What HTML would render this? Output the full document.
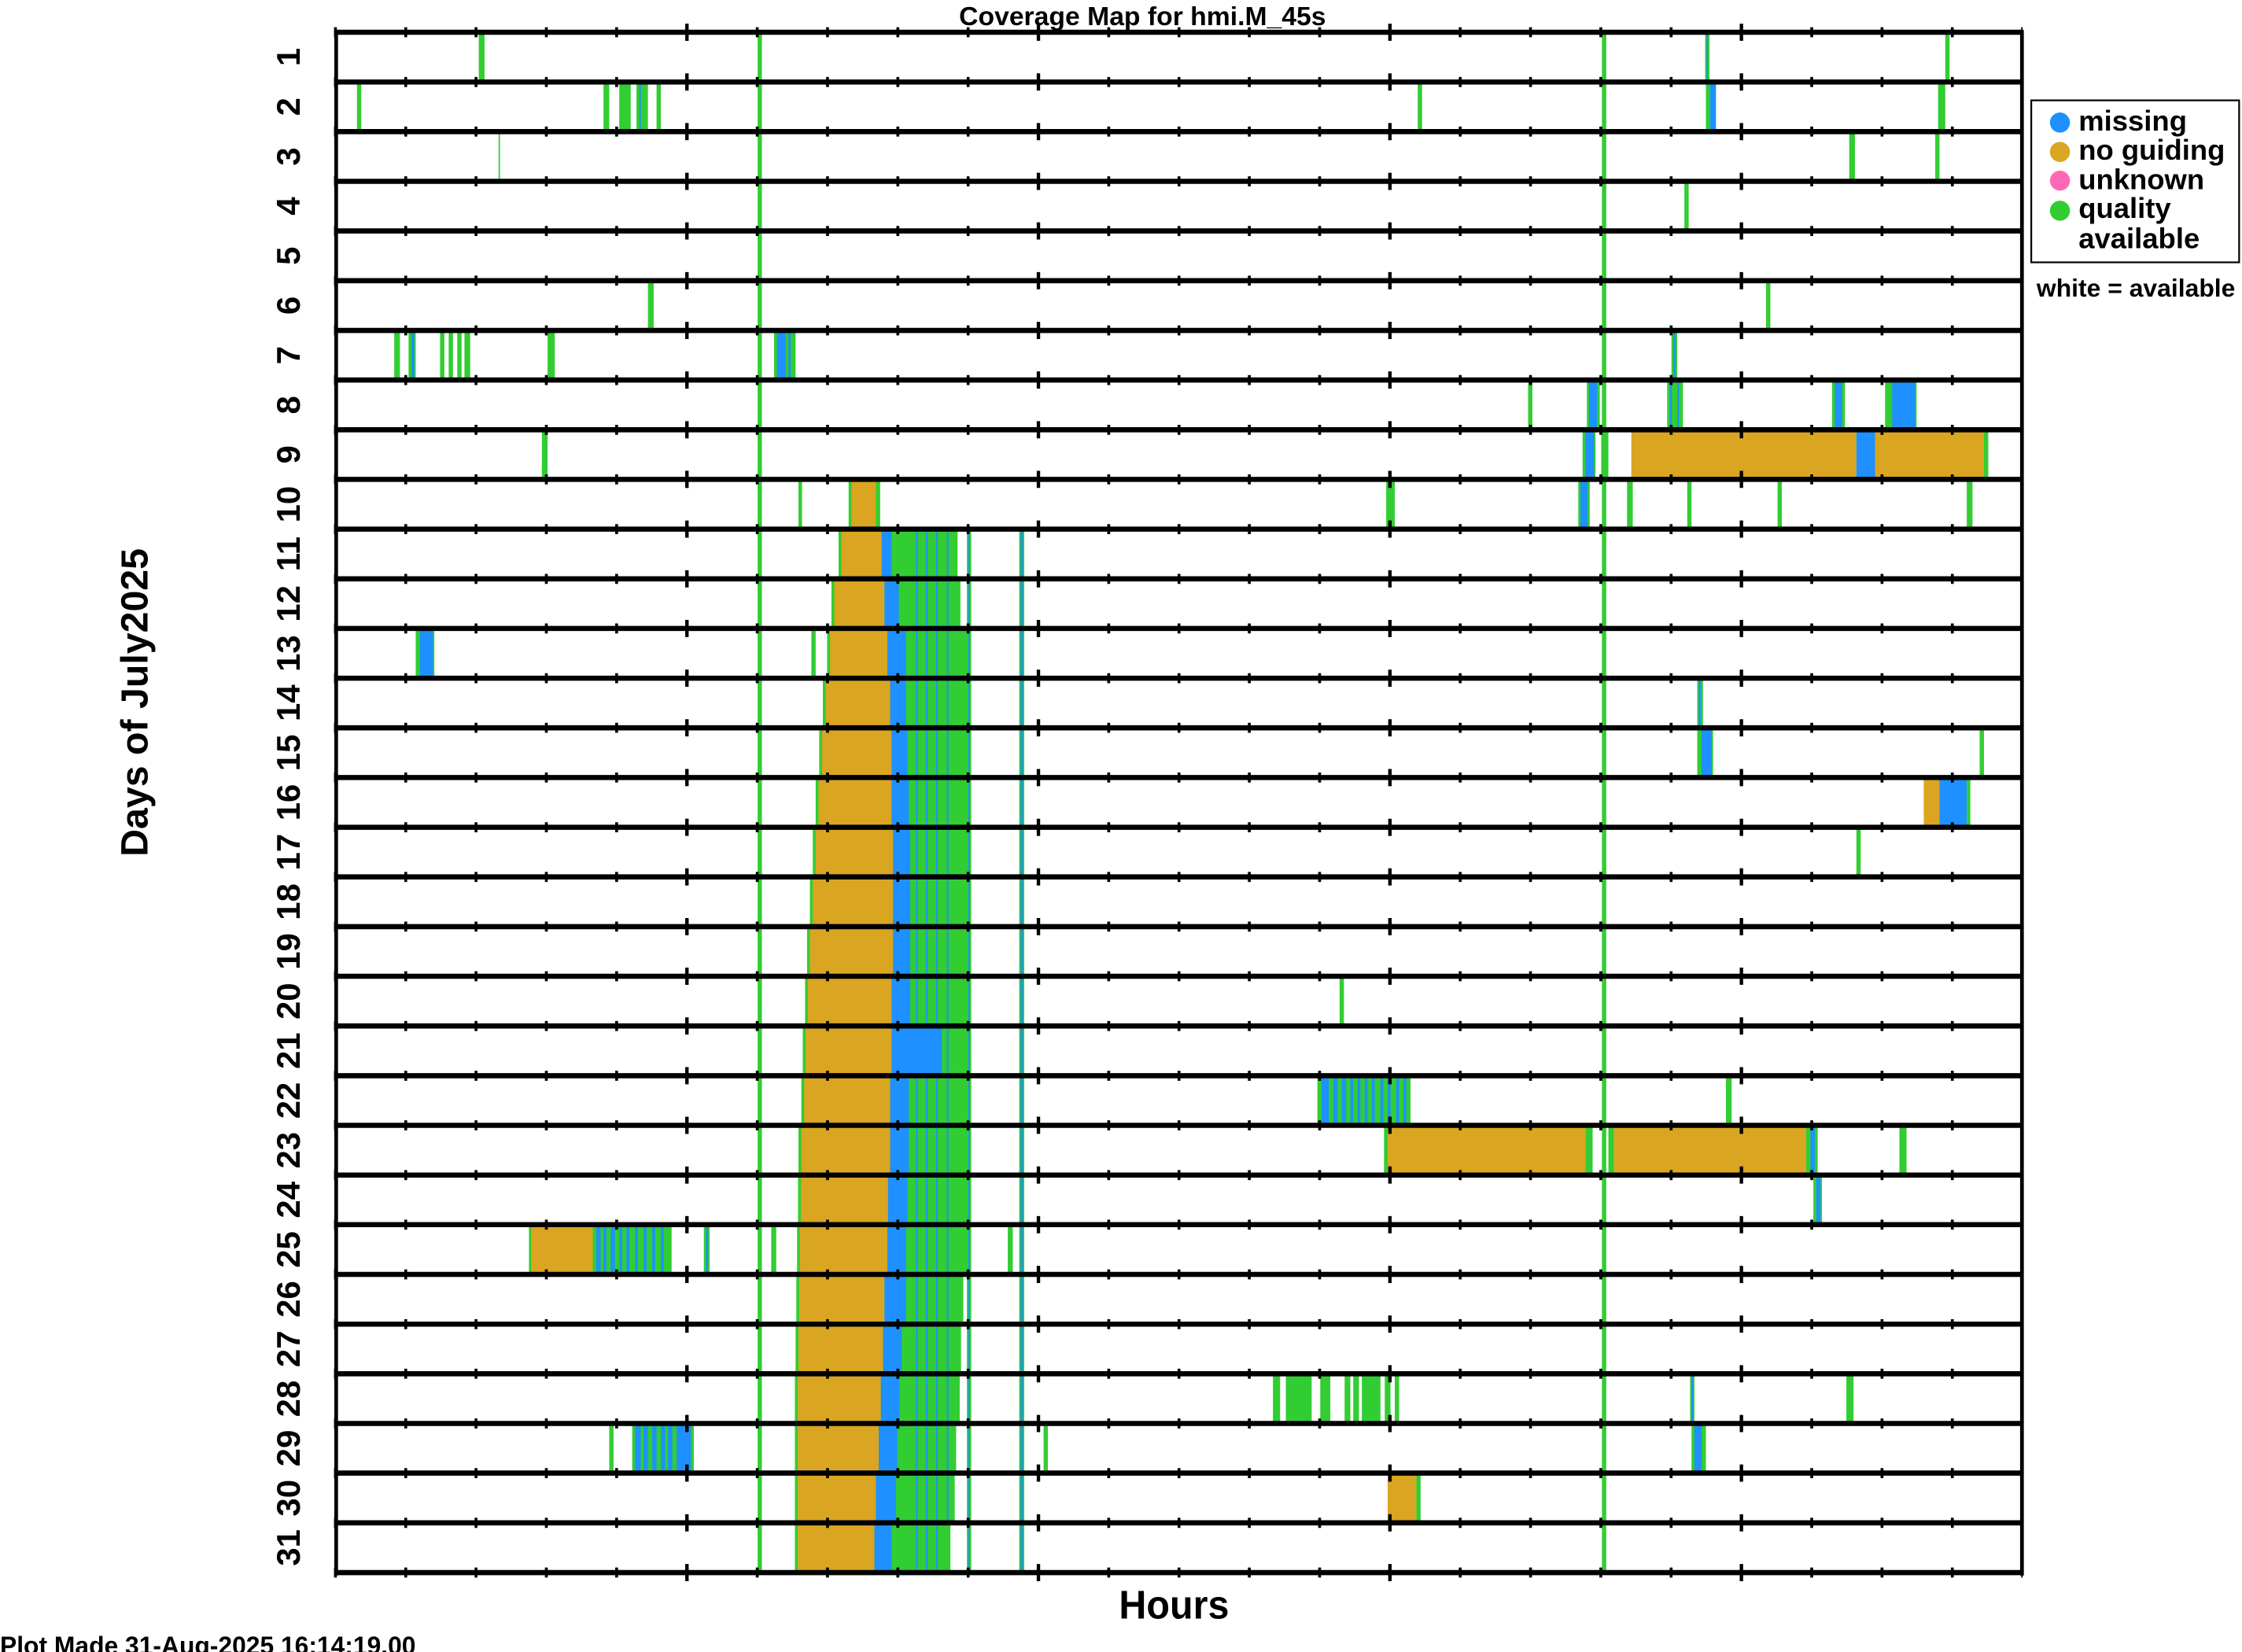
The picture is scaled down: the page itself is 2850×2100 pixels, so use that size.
<!DOCTYPE html>
<html><head><meta charset="utf-8"><style>
html,body{margin:0;padding:0;background:#fff}
svg{display:block}
.g{fill:#32CD32}.b{fill:#1E90FF}.o{fill:#DAA520}.p{fill:#FF69B4}
text{font-family:"Liberation Sans",sans-serif;font-weight:bold;fill:#000}
</style></head><body>
<svg width="2850" height="2100" viewBox="0 0 1564 1152.4" preserveAspectRatio="none" xmlns="http://www.w3.org/2000/svg">
<defs>
<g id="rl">
<line x1="234" x2="1411" y1="0" y2="0" stroke="#000" stroke-width="3.6"/>
<line x1="233" x2="1411" y1="0" y2="0" stroke="#000" stroke-width="7" stroke-dasharray="2 47.04"/>
<line x1="478" x2="1411" y1="0" y2="0" stroke="#000" stroke-width="12" stroke-dasharray="2.4 242.8"/>
</g>
</defs>
<rect class="g" x="528.5" y="22.5" width="3" height="1074.5"/>
<rect class="g" x="1117.5" y="22.5" width="3" height="1074.5"/>

<g transform="translate(0,22.5)"><rect class="g" x="334" width="4" height="34.66"/><rect class="g" x="1189.5" width="3" height="34.66"/><rect class="b" x="1190.5" width="1" height="34.66"/><rect class="g" x="1357" width="3" height="34.66"/></g>
<g transform="translate(0,57.2)"><rect class="g" x="249" width="3" height="34.66"/><rect class="g" x="421" width="4" height="34.66"/><rect class="g" x="432" width="8" height="34.66"/><rect class="g" x="444" width="8" height="34.66"/><rect class="b" x="446" width="1" height="34.66"/><rect class="g" x="458" width="3" height="34.66"/><rect class="g" x="989" width="3" height="34.66"/><rect class="g" x="1190" width="7" height="34.66"/><rect class="b" x="1193" width="4" height="34.66"/><rect class="g" x="1352" width="5" height="34.66"/></g>
<g transform="translate(0,91.8)"><rect class="g" x="347.8" width="1" height="34.66"/><rect class="g" x="1290" width="4" height="34.66"/><rect class="g" x="1350" width="3" height="34.66"/></g>
<g transform="translate(0,126.5)"><rect class="g" x="1175" width="3" height="34.66"/></g>
<g transform="translate(0,195.8)"><rect class="g" x="452" width="4" height="34.66"/><rect class="g" x="1232" width="3" height="34.66"/></g>
<g transform="translate(0,230.5)"><rect class="g" x="275" width="4" height="34.66"/><rect class="g" x="285" width="5" height="34.66"/><rect class="b" x="287" width="2" height="34.66"/><rect class="g" x="307" width="3" height="34.66"/><rect class="g" x="313" width="3" height="34.66"/><rect class="g" x="319" width="3" height="34.66"/><rect class="g" x="324" width="4" height="34.66"/><rect class="g" x="382" width="5" height="34.66"/><rect class="g" x="540" width="15" height="34.66"/><rect class="b" x="542" width="6" height="34.66"/><rect class="b" x="550" width="1.5" height="34.66"/><rect class="g" x="1166" width="4" height="34.66"/><rect class="b" x="1167.5" width="1.2" height="34.66"/></g>
<g transform="translate(0,265.1)"><rect class="g" x="1066" width="3" height="34.66"/><rect class="g" x="1107" width="9" height="34.66"/><rect class="b" x="1108.5" width="5.5" height="34.66"/><rect class="g" x="1163" width="11" height="34.66"/><rect class="b" x="1165" width="1.2" height="34.66"/><rect class="b" x="1170" width="1.2" height="34.66"/><rect class="g" x="1278" width="9" height="34.66"/><rect class="b" x="1280" width="5" height="34.66"/><rect class="g" x="1315" width="22" height="34.66"/><rect class="b" x="1320" width="16" height="34.66"/></g>
<g transform="translate(0,299.8)"><rect class="g" x="378" width="4" height="34.66"/><rect class="g" x="1104" width="9" height="34.66"/><rect class="b" x="1106" width="6" height="34.66"/><rect class="g" x="1117" width="5" height="34.66"/><rect class="o" x="1138" width="157" height="34.66"/><rect class="b" x="1295" width="13" height="34.66"/><rect class="o" x="1308" width="76" height="34.66"/><rect class="g" x="1384" width="3" height="34.66"/></g>
<g transform="translate(0,334.4)"><rect class="g" x="557" width="2.5" height="34.66"/><rect class="g" x="592" width="22" height="34.66"/><rect class="o" x="594" width="17" height="34.66"/><rect class="g" x="967" width="6" height="34.66"/><rect class="g" x="1101" width="8" height="34.66"/><rect class="b" x="1102.5" width="5" height="34.66"/><rect class="g" x="1135" width="4" height="34.66"/><rect class="g" x="1177" width="3" height="34.66"/><rect class="g" x="1240" width="3" height="34.66"/><rect class="g" x="1372" width="4" height="34.66"/></g>

<g id="mb">
<g transform="translate(0,369.1)"><rect class="g" x="585" width="83" height="34.66"/><rect class="o" x="587" width="28" height="34.66"/><rect class="b" x="615" width="7" height="34.66"/></g>
<g transform="translate(0,403.8)"><rect class="g" x="580" width="90" height="34.66"/><rect class="o" x="582" width="35" height="34.66"/><rect class="b" x="617" width="10" height="34.66"/></g>
<g transform="translate(0,438.4)"><rect class="g" x="577" width="98" height="34.66"/><rect class="o" x="579" width="40" height="34.66"/><rect class="b" x="619" width="13" height="34.66"/><rect class="g" x="566" width="3" height="34.66"/></g>
<g transform="translate(0,473.1)"><rect class="g" x="574" width="101" height="34.66"/><rect class="o" x="576" width="45" height="34.66"/><rect class="b" x="621" width="11" height="34.66"/></g>
<g transform="translate(0,507.7)"><rect class="g" x="571.5" width="103.5" height="34.66"/><rect class="o" x="573.5" width="48.5" height="34.66"/><rect class="b" x="622" width="11" height="34.66"/></g>
<g transform="translate(0,542.4)"><rect class="g" x="569" width="106" height="34.66"/><rect class="o" x="571" width="51" height="34.66"/><rect class="b" x="622" width="12" height="34.66"/></g>
<g transform="translate(0,577.1)"><rect class="g" x="567" width="108" height="34.66"/><rect class="o" x="569" width="54" height="34.66"/><rect class="b" x="623" width="12" height="34.66"/></g>
<g transform="translate(0,611.7)"><rect class="g" x="565" width="110" height="34.66"/><rect class="o" x="567" width="56" height="34.66"/><rect class="b" x="623" width="12" height="34.66"/></g>
<g transform="translate(0,646.4)"><rect class="g" x="563" width="112" height="34.66"/><rect class="o" x="565" width="58" height="34.66"/><rect class="b" x="623" width="12" height="34.66"/></g>
<g transform="translate(0,681.0)"><rect class="g" x="561.6" width="113.4" height="34.66"/><rect class="o" x="563.6" width="58.4" height="34.66"/><rect class="b" x="622" width="13" height="34.66"/></g>
<g transform="translate(0,715.7)"><rect class="g" x="560" width="115" height="34.66"/><rect class="o" x="562" width="60" height="34.66"/><rect class="b" x="622" width="35" height="34.66"/></g>
<g transform="translate(0,750.4)"><rect class="g" x="559" width="116" height="34.66"/><rect class="o" x="561" width="60" height="34.66"/><rect class="b" x="621" width="13" height="34.66"/></g>
<g transform="translate(0,785.0)"><rect class="g" x="557" width="118" height="34.66"/><rect class="o" x="559" width="62" height="34.66"/><rect class="b" x="621" width="13" height="34.66"/></g>
<g transform="translate(0,819.7)"><rect class="g" x="556.7" width="118.3" height="34.66"/><rect class="o" x="558.7" width="60.8" height="34.66"/><rect class="b" x="619.5" width="13.5" height="34.66"/></g>
<g transform="translate(0,854.3)"><rect class="g" x="556" width="119" height="34.66"/><rect class="o" x="558" width="61" height="34.66"/><rect class="b" x="619" width="13" height="34.66"/></g>
<g transform="translate(0,889.0)"><rect class="g" x="555.5" width="116.5" height="34.66"/><rect class="o" x="557.5" width="59.5" height="34.66"/><rect class="b" x="617" width="15" height="34.66"/></g>
<g transform="translate(0,923.7)"><rect class="g" x="555" width="115.4" height="34.66"/><rect class="o" x="557" width="59" height="34.66"/><rect class="b" x="616" width="13" height="34.66"/></g>
<g transform="translate(0,958.3)"><rect class="g" x="554.5" width="115" height="34.66"/><rect class="o" x="556.5" width="58" height="34.66"/><rect class="b" x="614.5" width="13" height="34.66"/></g>
<g transform="translate(0,993.0)"><rect class="g" x="554.5" width="112.5" height="34.66"/><rect class="o" x="556.5" width="56.5" height="34.66"/><rect class="b" x="613" width="13" height="34.66"/></g>
<g transform="translate(0,1027.6)"><rect class="g" x="554.5" width="111.5" height="34.66"/><rect class="o" x="556.5" width="54.5" height="34.66"/><rect class="b" x="611" width="14" height="34.66"/></g>
<g transform="translate(0,1062.3)"><rect class="g" x="554.5" width="108.5" height="34.66"/><rect class="o" x="556.5" width="53.5" height="34.66"/><rect class="b" x="610" width="12" height="34.66"/></g>
</g>
<g class="b">
<rect x="639" y="369.1" width="1.1" height="728"/><rect x="646" y="369.1" width="1.1" height="728"/><rect x="653" y="369.1" width="1.1" height="728"/><rect x="660.5" y="369.1" width="1.1" height="693"/>
</g>
<rect class="g" x="674.5" y="369.1" width="3" height="728"/><rect class="b" x="675.5" y="369.1" width="1" height="728"/>
<rect class="g" x="711" y="369.1" width="3.5" height="728"/><rect class="b" x="712" y="369.1" width="1.5" height="728"/>

<g transform="translate(0,438.4)"><rect class="g" x="290" width="13" height="34.66"/><rect class="b" x="293" width="9" height="34.66"/></g>
<g transform="translate(0,473.1)"><rect class="g" x="1184" width="4" height="34.66"/><rect class="b" x="1185" width="1.5" height="34.66"/></g>
<g transform="translate(0,507.7)"><rect class="g" x="1184" width="11" height="34.66"/><rect class="b" x="1187" width="7" height="34.66"/><rect class="g" x="1381" width="3" height="34.66"/></g>
<g transform="translate(0,542.4)"><rect class="o" x="1342" width="11" height="34.66"/><rect class="b" x="1353" width="19" height="34.66"/><rect class="g" x="1372" width="2.5" height="34.66"/></g>
<g transform="translate(0,577.1)"><rect class="g" x="1295" width="3" height="34.66"/></g>
<g transform="translate(0,681.0)"><rect class="g" x="934.5" width="3" height="34.66"/></g>
<g transform="translate(0,750.4)"><rect class="g" x="919" width="65" height="34.66"/>
<rect class="b" x="922" width="5" height="34.66"/><rect class="b" x="930" width="3" height="34.66"/><rect class="b" x="936" width="3" height="34.66"/><rect class="b" x="942" width="2" height="34.66"/><rect class="b" x="947" width="2" height="34.66"/><rect class="b" x="952" width="2" height="34.66"/><rect class="b" x="957" width="2" height="34.66"/><rect class="b" x="963" width="2" height="34.66"/><rect class="b" x="968" width="2" height="34.66"/><rect class="b" x="974" width="2" height="34.66"/><rect class="b" x="979" width="2" height="34.66"/>
<rect class="g" x="1204" width="4" height="34.66"/></g>
<g transform="translate(0,785.0)"><rect class="g" x="965.5" width="3" height="34.66"/><rect class="o" x="968" width="138" height="34.66"/><rect class="g" x="1106" width="5" height="34.66"/><rect class="g" x="1122" width="4" height="34.66"/><rect class="o" x="1126" width="134" height="34.66"/><rect class="g" x="1260" width="8" height="34.66"/><rect class="b" x="1263" width="3" height="34.66"/><rect class="g" x="1325" width="5" height="34.66"/></g>
<g transform="translate(0,819.7)"><rect class="g" x="1265" width="6" height="34.66"/><rect class="b" x="1267" width="3" height="34.66"/></g>
<g transform="translate(0,854.3)"><rect class="g" x="369" width="2" height="34.66"/><rect class="o" x="370.5" width="43" height="34.66"/><rect class="g" x="413.5" width="55" height="34.66"/>
<rect class="b" x="416" width="3" height="34.66"/><rect class="b" x="421" width="2" height="34.66"/><rect class="b" x="426" width="3" height="34.66"/><rect class="b" x="432" width="2" height="34.66"/><rect class="b" x="437" width="2" height="34.66"/><rect class="b" x="443" width="2" height="34.66"/><rect class="b" x="449" width="2" height="34.66"/><rect class="b" x="455" width="2" height="34.66"/><rect class="b" x="461" width="2" height="34.66"/>
<rect class="g" x="491" width="4" height="34.66"/><rect class="b" x="492.5" width="1.5" height="34.66"/><rect class="g" x="538" width="3.5" height="34.66"/><rect class="g" x="703" width="3.5" height="34.66"/></g>
<g transform="translate(0,958.3)"><rect class="g" x="888" width="5" height="34.66"/><rect class="g" x="897" width="18" height="34.66"/><rect class="g" x="921" width="7" height="34.66"/><rect class="g" x="938" width="4" height="34.66"/><rect class="g" x="944" width="4" height="34.66"/><rect class="g" x="950" width="13" height="34.66"/><rect class="g" x="966" width="4" height="34.66"/><rect class="g" x="973" width="3" height="34.66"/><rect class="g" x="1179" width="3" height="34.66"/><rect class="b" x="1180" width="1.3" height="34.66"/><rect class="g" x="1288" width="5" height="34.66"/></g>
<g transform="translate(0,993.0)"><rect class="g" x="425" width="3" height="34.66"/><rect class="g" x="441" width="43" height="34.66"/>
<rect class="b" x="443" width="4" height="34.66"/><rect class="b" x="449" width="3" height="34.66"/><rect class="b" x="455" width="3" height="34.66"/><rect class="b" x="461" width="3" height="34.66"/><rect class="b" x="466" width="3" height="34.66"/><rect class="b" x="472" width="10" height="34.66"/>
<rect class="g" x="728" width="3" height="34.66"/><rect class="g" x="1180" width="10" height="34.66"/><rect class="b" x="1182" width="5" height="34.66"/></g>
<g transform="translate(0,1027.6)"><rect class="o" x="968" width="20" height="34.66"/><rect class="g" x="988" width="3" height="34.66"/></g>

<use href="#rl" y="22.5"/><use href="#rl" y="57.2"/><use href="#rl" y="91.8"/><use href="#rl" y="126.5"/><use href="#rl" y="161.1"/><use href="#rl" y="195.8"/><use href="#rl" y="230.5"/><use href="#rl" y="265.1"/><use href="#rl" y="299.8"/><use href="#rl" y="334.4"/><use href="#rl" y="369.1"/><use href="#rl" y="403.8"/><use href="#rl" y="438.4"/><use href="#rl" y="473.1"/><use href="#rl" y="507.7"/><use href="#rl" y="542.4"/><use href="#rl" y="577.1"/><use href="#rl" y="611.7"/><use href="#rl" y="646.4"/><use href="#rl" y="681.0"/><use href="#rl" y="715.7"/><use href="#rl" y="750.4"/><use href="#rl" y="785.0"/><use href="#rl" y="819.7"/><use href="#rl" y="854.3"/><use href="#rl" y="889.0"/><use href="#rl" y="923.7"/><use href="#rl" y="958.3"/><use href="#rl" y="993.0"/><use href="#rl" y="1027.6"/><use href="#rl" y="1062.3"/><use href="#rl" y="1097"/>
<line x1="234.5" x2="234.5" y1="21" y2="1099" stroke="#000" stroke-width="2.6"/>
<line x1="1410.5" x2="1410.5" y1="21" y2="1099" stroke="#000" stroke-width="2.6"/>

<text x="797" y="17.5" font-size="18.5" text-anchor="middle">Coverage Map for hmi.M_45s</text>
<g font-size="23" text-anchor="middle">
<text transform="translate(209,39.8) rotate(-90)">1</text>
<text transform="translate(209,74.5) rotate(-90)">2</text>
<text transform="translate(209,109.2) rotate(-90)">3</text>
<text transform="translate(209,143.8) rotate(-90)">4</text>
<text transform="translate(209,178.5) rotate(-90)">5</text>
<text transform="translate(209,213.1) rotate(-90)">6</text>
<text transform="translate(209,247.8) rotate(-90)">7</text>
<text transform="translate(209,282.5) rotate(-90)">8</text>
<text transform="translate(209,317.1) rotate(-90)">9</text>
<text transform="translate(209,351.8) rotate(-90)">10</text>
<text transform="translate(209,386.4) rotate(-90)">11</text>
<text transform="translate(209,421.1) rotate(-90)">12</text>
<text transform="translate(209,455.8) rotate(-90)">13</text>
<text transform="translate(209,490.4) rotate(-90)">14</text>
<text transform="translate(209,525.1) rotate(-90)">15</text>
<text transform="translate(209,559.7) rotate(-90)">16</text>
<text transform="translate(209,594.4) rotate(-90)">17</text>
<text transform="translate(209,629.1) rotate(-90)">18</text>
<text transform="translate(209,663.7) rotate(-90)">19</text>
<text transform="translate(209,698.4) rotate(-90)">20</text>
<text transform="translate(209,733.0) rotate(-90)">21</text>
<text transform="translate(209,767.7) rotate(-90)">22</text>
<text transform="translate(209,802.4) rotate(-90)">23</text>
<text transform="translate(209,837.0) rotate(-90)">24</text>
<text transform="translate(209,871.7) rotate(-90)">25</text>
<text transform="translate(209,906.3) rotate(-90)">26</text>
<text transform="translate(209,941.0) rotate(-90)">27</text>
<text transform="translate(209,975.7) rotate(-90)">28</text>
<text transform="translate(209,1010.3) rotate(-90)">29</text>
<text transform="translate(209,1045.0) rotate(-90)">30</text>
<text transform="translate(209,1079.6) rotate(-90)">31</text>
</g>
<text transform="translate(103,490) rotate(-90)" font-size="26.5" text-anchor="middle">Days of July2025</text>
<text transform="translate(819,1129) scale(0.95,1)" font-size="28" text-anchor="middle">Hours</text>
<text transform="translate(0,1154) scale(0.97,1)" font-size="18">Plot Made 31-Aug-2025 16:14:19.00</text>

<rect x="1417" y="70" width="145" height="113" fill="#fff" stroke="#000" stroke-width="1.2"/>
<circle cx="1437" cy="85.5" r="7" class="b"/>
<circle cx="1437" cy="106" r="7" class="o"/>
<circle cx="1437" cy="126" r="7" class="p"/>
<circle cx="1437" cy="147" r="7" class="g"/>
<g font-size="20">
<text x="1450" y="91">missing</text>
<text x="1450" y="111.5">no guiding</text>
<text x="1450" y="132">unknown</text>
<text x="1450" y="152">quality</text>
<text x="1450" y="173">available</text>
</g>
<text x="1490" y="207" font-size="17.5" text-anchor="middle">white = available</text>
</svg>
</body></html>
